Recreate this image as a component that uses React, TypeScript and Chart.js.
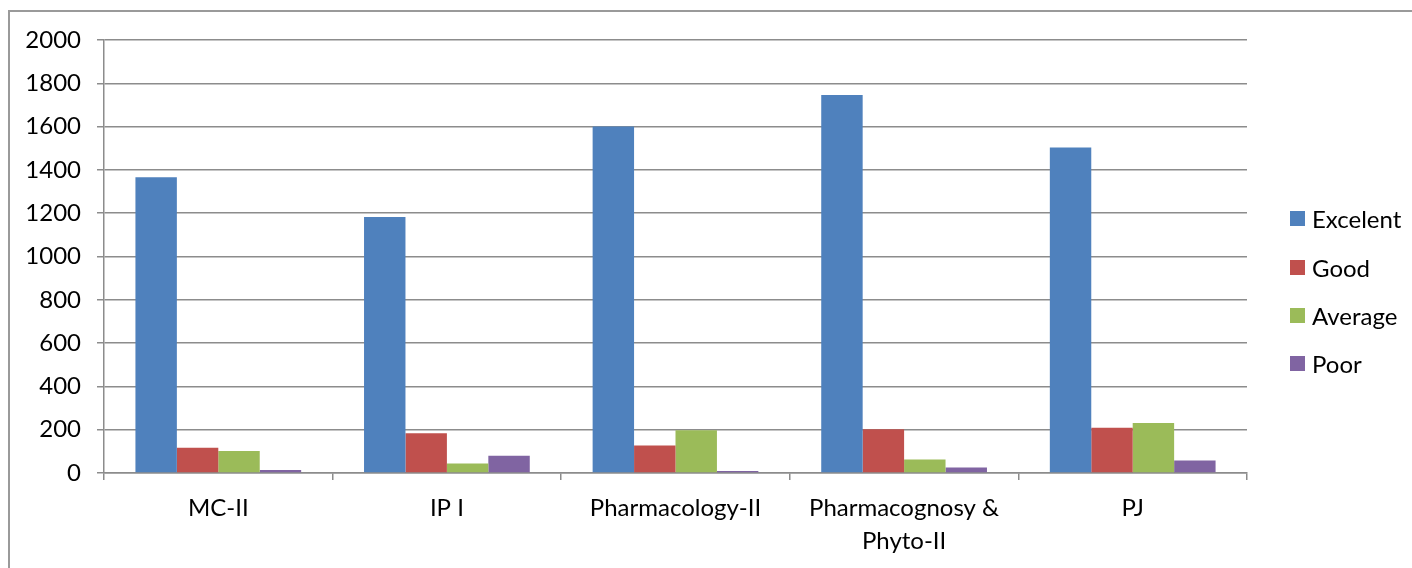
import React, { useEffect, useRef } from "react";
import { Chart, registerables } from "chart.js";

Chart.register(...registerables);

const categories: (string | string[])[] = [
  "MC-II",
  "IP I",
  "Pharmacology-II",
  ["Pharmacognosy &", "Phyto-II"],
  "PJ",
];
const seriesNames = ["Excelent", "Good", "Average", "Poor"];
const excelent = [1366, 1182, 1600, 1746, 1503];
const good = [117, 184, 127, 202, 209];
const average = [102, 44, 197, 62, 231];
const poor = [14, 80, 9, 25, 58];
const colors = ["#4F81BD", "#C0504D", "#9BBB59", "#8064A2"];
const yTicks = { min: 0, max: 2000, step: 200 };

const FONT = "Lato";
const FONT_SIZE = 24;
const GRID = "#8c8c8c";

export default function App() {
  const ref = useRef<HTMLCanvasElement | null>(null);

  useEffect(() => {
    if (!ref.current) return;
    const values = [excelent, good, average, poor];
    const chart = new Chart(ref.current, {
      type: "bar",
      data: {
        labels: categories,
        datasets: seriesNames.map((name, i) => ({
          label: name,
          data: values[i],
          backgroundColor: colors[i],
          borderWidth: 0,
          categoryPercentage: 0.725,
          barPercentage: 1,
        })),
      },
      options: {
        responsive: false,
        animation: false,
        maintainAspectRatio: false,
        layout: { padding: { top: 28, left: 0, right: 165, bottom: 0 } },
        plugins: { legend: { display: false }, tooltip: { enabled: false } },
        scales: {
          x: {
            grid: {
              offset: true,
              drawOnChartArea: false,
              tickLength: 7,
              color: GRID,
              lineWidth: 1.5,
            },
            border: { color: GRID, width: 1.5 },
            ticks: {
              color: "#000",
              font: { family: FONT, size: FONT_SIZE, lineHeight: 1.4 },
              padding: 11,
              maxRotation: 0,
              autoSkip: false,
            },
            afterFit: (scale: any) => {
              scale.height = 95;
              scale.paddingTop = 0;
              scale.paddingBottom = 0;
            },
          },
          y: {
            min: yTicks.min,
            max: yTicks.max,
            grid: { color: GRID, lineWidth: 1.5, tickLength: 7 },
            border: { color: GRID, width: 1.5 },
            ticks: {
              stepSize: yTicks.step,
              color: "#000",
              font: { family: FONT, size: FONT_SIZE },
              padding: 16,
              callback: (v: any) => String(v),
            },
            afterFit: (scale: any) => {
              scale.width = 94;
              scale.paddingTop = 0;
              scale.paddingBottom = 0;
            },
          },
        },
      },
    });
    return () => chart.destroy();
  }, []);

  const legendTop = [218, 267, 315, 363];

  return (
    <div style={{ position: "fixed", inset: 0, overflow: "hidden", background: "#fff" }}>
      <div
        style={{
          position: "absolute",
          left: 8,
          top: 10,
          width: 1420,
          height: 600,
          border: "2px solid #9a9a9a",
          boxSizing: "border-box",
        }}
      />
      <canvas
        ref={ref}
        width={1402}
        height={556}
        style={{ position: "absolute", left: 10, top: 12, width: 1402, height: 556 }}
      />
      {seriesNames.map((name, i) => (
        <div
          key={name}
          style={{
            position: "absolute",
            left: 1290,
            top: legendTop[i] - 16,
            height: 32,
            display: "flex",
            alignItems: "center",
            fontFamily: FONT,
            fontSize: FONT_SIZE,
            color: "#000",
            whiteSpace: "nowrap",
          }}
        >
          <span
            style={{
              display: "inline-block",
              width: 15,
              height: 15,
              background: colors[i],
              marginRight: 7,
            }}
          />
          {name}
        </div>
      ))}
    </div>
  );
}
